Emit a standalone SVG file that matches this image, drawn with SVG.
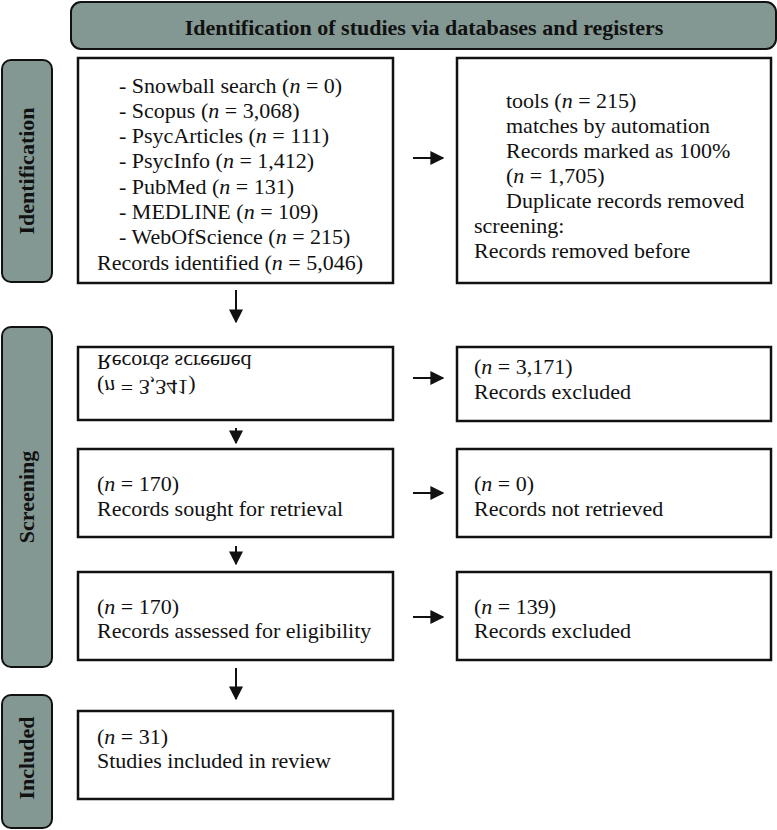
<svg xmlns="http://www.w3.org/2000/svg" width="777" height="830" viewBox="0 0 777 830">
<style>
.band{fill:#849893;stroke:#111;stroke-width:2}
.box{fill:#fff;stroke:#111;stroke-width:2.5}
.t{font-family:"Liberation Serif","Times New Roman",serif;font-size:22px;fill:#111}
.h{font-family:"Liberation Serif","Times New Roman",serif;font-size:22px;font-weight:bold;fill:#111}
.i{font-style:italic}
.c{stroke:#111;stroke-width:2;fill:none}
</style>
<defs>
<marker id="ah2" viewBox="0 0 10 10" refX="9" refY="5" markerWidth="14" markerHeight="14" markerUnits="userSpaceOnUse" orient="auto">
<path d="M0,0 L10,5 L0,10 Z" fill="#111"/>
</marker>
</defs>
<g id="header">
<rect class="band" x="71" y="2" width="705" height="47" rx="10"/>
<text class="h" x="424" y="35" text-anchor="middle">Identification of studies via databases and registers</text>
</g>
<g id="band-identification">
<rect class="band" x="2" y="60" width="50" height="222" rx="9"/>
<text class="h" transform="translate(34,171) rotate(-90)" text-anchor="middle">Identification</text>
</g>
<g id="band-screening">
<rect class="band" x="2" y="327" width="50" height="340" rx="9"/>
<text class="h" transform="translate(34,497) rotate(-90)" text-anchor="middle">Screening</text>
</g>
<g id="band-included">
<rect class="band" x="2" y="695" width="50" height="133" rx="9"/>
<text class="h" transform="translate(34,758) rotate(-90)" text-anchor="middle">Included</text>
</g>
<g id="identified">
<rect class="box" x="78" y="58" width="315" height="225"/>
<text class="t" x="119" y="93">- Snowball search (<tspan class="i">n</tspan> = 0)</text>
<text class="t" x="119" y="118">- Scopus (<tspan class="i">n</tspan> = 3,068)</text>
<text class="t" x="119" y="143">- PsycArticles (<tspan class="i">n</tspan> = 111)</text>
<text class="t" x="119" y="168">- PsycInfo (<tspan class="i">n</tspan> = 1,412)</text>
<text class="t" x="119" y="194">- PubMed (<tspan class="i">n</tspan> = 131)</text>
<text class="t" x="119" y="219">- MEDLINE (<tspan class="i">n</tspan> = 109)</text>
<text class="t" x="119" y="244">- WebOfScience (<tspan class="i">n</tspan> = 215)</text>
<text class="t" x="97" y="270">Records identified (<tspan class="i">n</tspan> = 5,046)</text>
</g>
<g id="removed">
<rect class="box" x="457" y="58" width="314" height="225"/>
<text class="t" x="506" y="108">tools (<tspan class="i">n</tspan> = 215)</text>
<text class="t" x="506" y="133">matches by automation</text>
<text class="t" x="506" y="158">Records marked as 100%</text>
<text class="t" x="506" y="183">(<tspan class="i">n</tspan> = 1,705)</text>
<text class="t" x="506" y="208">Duplicate records removed</text>
<text class="t" x="474" y="233">screening:</text>
<text class="t" x="474" y="258">Records removed before</text>
</g>
<g id="screened">
<rect class="box" x="78" y="347" width="315" height="73"/>
<g transform="matrix(1,0,0,-1,0,750)">
<text class="t" x="97" y="370">(<tspan class="i">n</tspan> = 3,341)</text>
<text class="t" x="97" y="395">Records screened</text>
</g>
</g>
<g id="excluded1">
<rect class="box" x="457" y="347" width="314" height="74"/>
<text class="t" x="474" y="374">(<tspan class="i">n</tspan> = 3,171)</text>
<text class="t" x="474" y="399">Records excluded</text>
</g>
<g id="sought">
<rect class="box" x="78" y="449" width="315" height="88"/>
<text class="t" x="97" y="491">(<tspan class="i">n</tspan> = 170)</text>
<text class="t" x="97" y="516">Records sought for retrieval</text>
</g>
<g id="notretrieved">
<rect class="box" x="457" y="449" width="314" height="88"/>
<text class="t" x="474" y="491">(<tspan class="i">n</tspan> = 0)</text>
<text class="t" x="474" y="516">Records not retrieved</text>
</g>
<g id="assessed">
<rect class="box" x="78" y="572" width="315" height="88"/>
<text class="t" x="97" y="614">(<tspan class="i">n</tspan> = 170)</text>
<text class="t" x="97" y="638">Records assessed for eligibility</text>
</g>
<g id="excluded2">
<rect class="box" x="457" y="572" width="314" height="88"/>
<text class="t" x="474" y="614">(<tspan class="i">n</tspan> = 139)</text>
<text class="t" x="474" y="638">Records excluded</text>
</g>
<g id="included">
<rect class="box" x="78" y="711" width="315" height="88"/>
<text class="t" x="97" y="744">(<tspan class="i">n</tspan> = 31)</text>
<text class="t" x="97" y="768">Studies included in review</text>
</g>
<g id="connectors">
<line class="c" x1="413" y1="158" x2="443" y2="158" marker-end="url(#ah2)"/>
<line class="c" x1="236" y1="290" x2="236" y2="322" marker-end="url(#ah2)"/>
<line class="c" x1="413" y1="378" x2="443" y2="378" marker-end="url(#ah2)"/>
<line class="c" x1="236" y1="428" x2="236" y2="443" marker-end="url(#ah2)"/>
<line class="c" x1="413" y1="493" x2="443" y2="493" marker-end="url(#ah2)"/>
<line class="c" x1="236" y1="546" x2="236" y2="564" marker-end="url(#ah2)"/>
<line class="c" x1="413" y1="617" x2="443" y2="617" marker-end="url(#ah2)"/>
<line class="c" x1="236" y1="668" x2="236" y2="699" marker-end="url(#ah2)"/>
</g>
</svg>
